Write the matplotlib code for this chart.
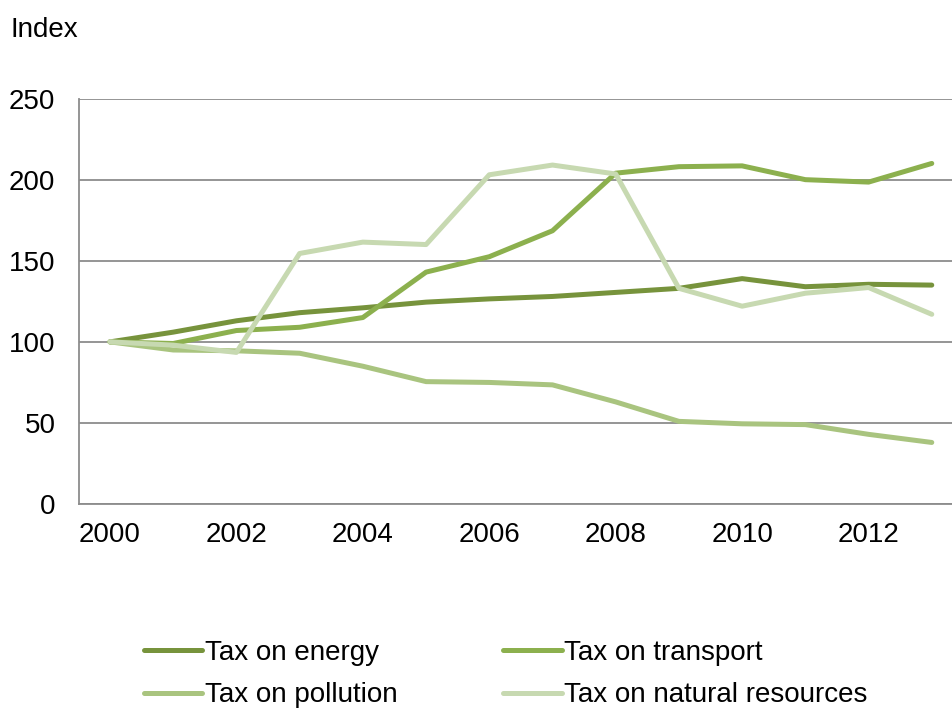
import matplotlib.pyplot as plt

plt.rcParams["font.family"] = ["Liberation Sans", "DejaVu Sans"]

years = list(range(2000, 2014))
energy = [100, 106, 113, 118, 121, 124.5, 126.5, 128, 130.5, 133, 139, 134, 135.5, 135]
transport = [100, 99, 107, 109, 115, 143, 152.5, 168.5, 204, 208, 208.5, 200, 198.5, 210]
pollution = [100, 95, 94.5, 93, 85, 75.5, 75, 73.5, 63, 51, 49.5, 49, 43, 38]
resources = [100, 98, 93.5, 154.5, 161.5, 160, 203, 209, 203.5, 133, 122, 130, 133.5, 117]

labels = ["Tax on energy", "Tax on transport", "Tax on pollution", "Tax on natural resources"]
colors = ["#77933C", "#8CB04E", "#A9C47F", "#C7D9B1"]

fig = plt.figure(figsize=(9.52, 7.09), dpi=100)
ax = fig.add_axes([0.083, 0.289, 0.917, 0.572])

lines = []
for vals, lab, col in zip([energy, transport, pollution, resources], labels, colors):
    (ln,) = ax.plot(years, vals, color=col, lw=3.6, label=lab, solid_capstyle="round",
                    solid_joinstyle="round")
    lines.append(ln)

ax.set_xlim(1999.51, 2013.32)
ax.set_ylim(0, 250)
ax.set_yticks([0, 50, 100, 150, 200, 250])
ax.set_xticks([2000, 2002, 2004, 2006, 2008, 2010, 2012])
ax.yaxis.grid(True, color="#8C8C8C", lw=1.3)
ax.set_axisbelow(True)
for s in ["top", "right"]:
    ax.spines[s].set_visible(False)
for s in ["left", "bottom"]:
    ax.spines[s].set_color("#8C8C8C")
    ax.spines[s].set_linewidth(1.3)
ax.tick_params(axis="both", length=0, labelsize=20)
ax.tick_params(axis="y", pad=17)
ax.tick_params(axis="x", pad=13)

fig.text(0.011, 0.957, "Index", fontsize=20, va="center", ha="left")

# legend fills column-wise, so reorder to get energy/transport on the first row
order = [0, 2, 1, 3]
fig.legend([lines[i] for i in order], [labels[i] for i in order], ncol=2,
           loc="center left", bbox_to_anchor=(0.125, 0.049), frameon=False,
           fontsize=20, handlelength=2.1, handletextpad=0.1, columnspacing=3.8,
           labelspacing=0.58)

fig.savefig("out.png", dpi=100)
